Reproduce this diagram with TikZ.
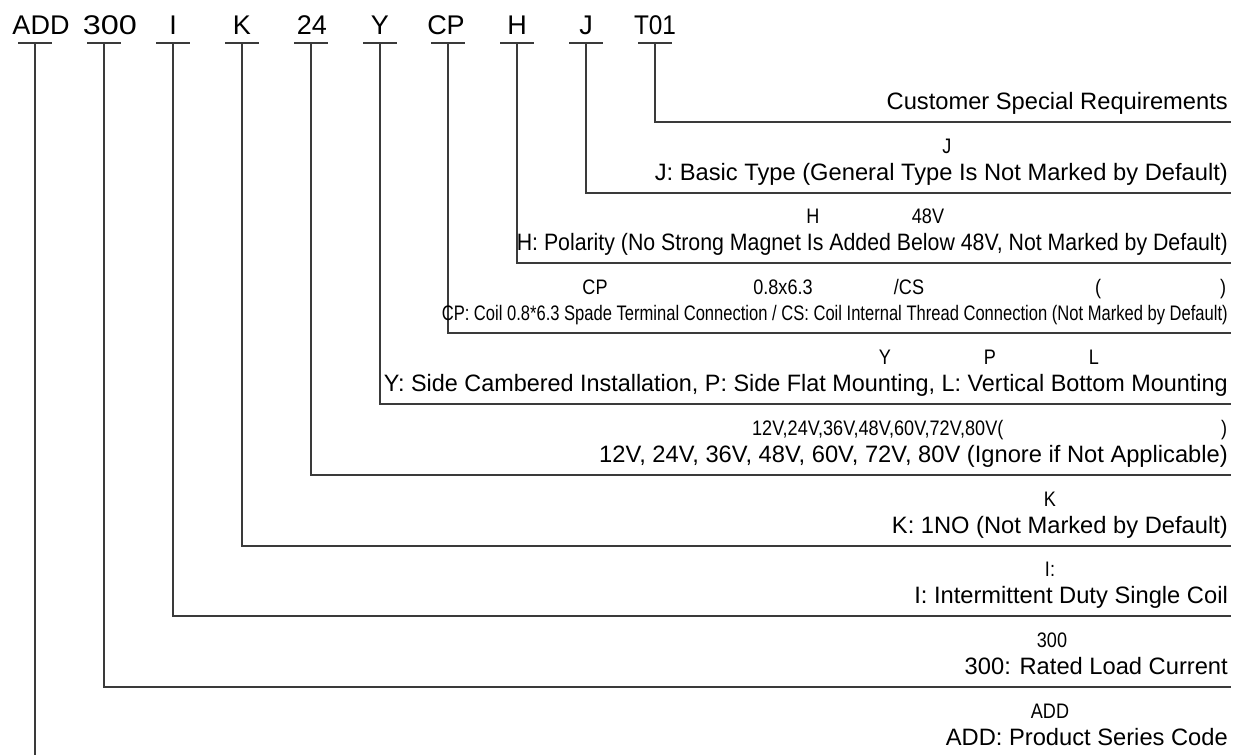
\documentclass[tikz,border=0pt]{standalone}
\usepackage{fontspec}
\setmainfont{Liberation Sans}
\newfontfamily\narrowfont[FakeStretch=0.86]{Liberation Sans}
\usepackage{graphicx}
\definecolor{linegray}{HTML}{3A3A3A}
\tikzset{
  conn/.style={draw=linegray, line width=1.6pt},
  codelab/.style={font=\fontsize{27}{30}\selectfont, anchor=base, inner sep=0pt},
  lowtext/.style={font=\fontsize{23.7}{28}\selectfont, anchor=base east, inner sep=0pt},
  uptext/.style={font=\narrowfont\fontsize{21}{24}\selectfont, anchor=base, inner sep=0pt},
}
\newcommand{\squeeze}[2]{\resizebox{#1}{\height}{#2}}
\begin{document}
\begin{tikzpicture}[x=1pt,y=-1pt]
\useasboundingbox (0,0) rectangle (1240,755);
% top code labels
\node[codelab] (lADD) at (41,34) {ADD};
\node[codelab] (l300) at (110,34) {\resizebox{54pt}{\height}{300}};
\node[codelab] (lI) at (173,34) {I};
\node[codelab] (lK) at (242,34) {K};
\node[codelab] (l24) at (312,34) {24};
\node[codelab] (lY) at (380,34) {Y};
\node[codelab] (lCP) at (446,34) {CP};
\node[codelab] (lH) at (517,34) {H};
\node[codelab] (lJ) at (586,34) {J};
\node[codelab] (lT) at (655,34) {\resizebox{42pt}{\height}{T01}};
% underline anchor points
\foreach \n/\x in {ADD/35,300/104,I/173,K/242,24/311,Y/380,CP/448,H/517,J/586,T/655}{
  \coordinate (u\n) at (\x,43);
  \draw[conn] (\x-17,43) -- (\x+17,43);
}
% line end points
\coordinate (eT) at (1231,122);
\coordinate (eJ) at (1231,193);
\coordinate (eH) at (1231,263);
\coordinate (eCP) at (1231,333);
\coordinate (eY) at (1231,404);
\coordinate (e24) at (1231,475);
\coordinate (eK) at (1231,546);
\coordinate (eI) at (1231,616);
\coordinate (e300) at (1231,687);
\coordinate (eADD) at (35,755);
% connectors
\draw[conn] (uT) |- (eT);
\draw[conn] (uJ) |- (eJ);
\draw[conn] (uH) |- (eH);
\draw[conn] (uCP) |- (eCP);
\draw[conn] (uY) |- (eY);
\draw[conn] (u24) |- (e24);
\draw[conn] (uK) |- (eK);
\draw[conn] (uI) |- (eI);
\draw[conn] (u300) |- (e300);
\draw[conn] (uADD) -- (eADD);
% descriptions
\node[lowtext] (dT) at (1228,109) {Customer Special Requirements};

\node[uptext] (uJ1) at (947,153) {J};
\node[lowtext] (dJ) at (1228,180) {J: Basic Type (General Type Is Not Marked by Default)};

\node[uptext] (uH1) at (813,223) {H};
\node[uptext] (uH2) at (928,223) {48V};
\node[lowtext] (dH) at (1228,250) {\squeeze{711pt}{H: Polarity (No Strong Magnet Is Added Below 48V, Not Marked by Default)}};

\node[uptext] (uC1) at (595,294) {CP};
\node[uptext] (uC2) at (783,294) {0.8x6.3};
\node[uptext] (uC3) at (909,294) {/CS};
\node[uptext] (uC4) at (1098,294) {(};
\node[uptext] (uC5) at (1223,294) {)};
\node[lowtext, font=\fontsize{21}{25}\selectfont] (dCP) at (1228,320) {\squeeze{786pt}{CP: Coil 0.8*6.3 Spade Terminal Connection / CS: Coil Internal Thread Connection (Not Marked by Default)}};

\node[uptext] (uY1) at (885,364) {Y};
\node[uptext] (uY2) at (990,364) {P};
\node[uptext] (uY3) at (1094,364) {L};
\node[lowtext] (dY) at (1228,391) {\squeeze{844pt}{Y: Side Cambered Installation, P: Side Flat Mounting, L: Vertical Bottom Mounting}};

\node[uptext, anchor=base west] (uV1) at (752,435) {12V,24V,36V,48V,60V,72V,80V(};
\node[uptext] (uV2) at (1224,435) {)};
\node[lowtext] (dV) at (1228,462) {12V, 24V, 36V, 48V, 60V, 72V, 80V (Ignore if Not Applicable)};

\node[uptext] (uK1) at (1050,506) {K};
\node[lowtext] (dK) at (1228,533) {K: 1NO (Not Marked by Default)};

\node[uptext] (uI1) at (1050,576) {I:};
\node[lowtext] (dI) at (1228,603) {I: Intermittent Duty Single Coil};

\node[uptext] (u3001) at (1052,647) {300};
\node[lowtext] (d300) at (1228,674) {300: Rated Load Current};

\node[uptext] (uA1) at (1050,718) {ADD};
\node[lowtext] (dADD) at (1228,745) {ADD: Product Series Code};
\end{tikzpicture}
\end{document}
